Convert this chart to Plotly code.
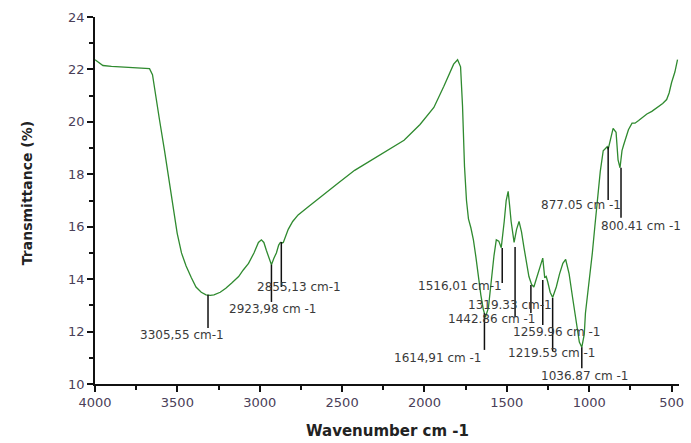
import plotly.graph_objects as go

# ---- spectrum (wavenumber cm-1, transmittance %) ----
wavenumber = [4000, 3970, 3952, 3900, 3850, 3780, 3729, 3669, 3651, 3630, 3609, 3578, 3549, 3531, 3519,
              3501, 3475, 3447, 3415, 3387, 3355, 3326, 3300, 3278, 3240, 3206, 3170, 3128, 3100, 3068,
              3035, 3008, 2990, 2975, 2960, 2945, 2929, 2914, 2899, 2885, 2875, 2865, 2857, 2845, 2827,
              2800, 2767, 2707, 2629, 2527, 2424, 2346, 2226, 2124, 2027, 1943, 1883, 1850, 1823, 1799,
              1781, 1769, 1757, 1745, 1733, 1718, 1703, 1688, 1673, 1658, 1643, 1630, 1612, 1594, 1578,
              1564, 1549, 1534, 1525, 1516, 1504, 1492, 1483, 1474, 1456, 1441, 1426, 1411, 1396, 1381,
              1366, 1350, 1336, 1324, 1312, 1297, 1282, 1270, 1261, 1252, 1237, 1222, 1200, 1180, 1160,
              1143, 1122, 1101, 1077, 1060, 1045, 1030, 1023, 1000, 981, 966, 951, 933, 915, 900,
              891, 885, 870, 855, 837, 825, 813, 801, 792, 783, 762, 740, 722, 700, 680,
              650, 620, 585, 554, 530, 515, 500, 480, 464]
transmittance = [22.37, 22.25, 22.15, 22.12, 22.10, 22.09, 22.07, 22.03, 21.80, 20.90, 20.10, 18.90, 17.70, 17.00, 16.50,
                 15.75, 15.00, 14.50, 14.05, 13.70, 13.50, 13.40, 13.38, 13.40, 13.50, 13.65, 13.85, 14.10, 14.35, 14.60,
                 15.00, 15.40, 15.50, 15.40, 15.10, 14.80, 14.55, 14.80, 15.00, 15.30, 15.40, 15.38, 15.40, 15.60, 15.90,
                 16.20, 16.45, 16.75, 17.15, 17.65, 18.15, 18.45, 18.90, 19.30, 19.90, 20.55, 21.35, 21.80, 22.20, 22.37,
                 22.10, 20.60, 18.30, 17.00, 16.30, 15.95, 15.50, 14.85, 14.00, 13.40, 12.85, 12.55, 12.90, 14.00, 14.90,
                 15.50, 15.45, 15.20, 15.60, 16.20, 17.00, 17.35, 16.80, 16.20, 15.40, 15.90, 16.20, 15.80, 15.20, 14.60,
                 14.10, 13.80, 13.70, 13.95, 14.20, 14.55, 14.80, 14.05, 14.10, 13.90, 13.50, 13.30, 13.70, 14.20, 14.60,
                 14.75, 14.20, 13.30, 12.40, 11.60, 11.40, 11.90, 12.70, 13.90, 15.00, 16.00, 16.90, 18.10, 18.90, 19.00,
                 19.05, 18.95, 19.30, 19.75, 19.60, 18.55, 18.25, 18.90, 19.10, 19.30, 19.70, 19.95, 19.95, 20.05, 20.15,
                 20.30, 20.40, 20.55, 20.70, 20.85, 21.10, 21.50, 21.90, 22.37]

# ---- peak labels ----
peak_labels = ["3305,55 cm-1", "2923,98 cm -1", "2855,13 cm-1", "1614,91 cm -1", "1516,01 cm-1",
               "1442.86 cm -1", "1319.33 cm-1", "1259.96 cm -1", "1219.53 cm -1", "1036.87 cm -1",
               "877.05 cm -1", "800.41 cm -1"]
marker_x = [3314, 2929, 2869, 1636, 1528, 1450, 1354, 1282, 1222, 1045, 885, 807]
marker_top = [13.40, 14.55, 15.42, 12.70, 15.19, 15.23, 13.78, 13.97, 13.28, 11.40, 19.05, 18.25]
marker_bottom = [12.14, 13.13, 13.70, 11.30, 13.85, 12.56, 12.71, 12.25, 11.25, 10.60, 17.02, 16.34]
label_x = [3471, 2917, 2761, 1919, 1787, 1588, 1480, 1197, 1228, 1023, 1047, 686]
label_y = [11.87, 12.86, 13.70, 10.99, 13.74, 12.48, 13.02, 11.98, 11.18, 10.31, 16.83, 16.03]

x_ticks = [4000, 3500, 3000, 2500, 2000, 1500, 1000, 500]
y_ticks = [10, 12, 14, 16, 18, 20, 22, 24]

fig = go.Figure()
fig.add_trace(go.Scatter(x=wavenumber, y=transmittance, mode="lines",
                         line=dict(color="#2f8a2f", width=1.3), showlegend=False,
                         hoverinfo="skip"))

# vertical marker lines
lx, ly = [], []
for x, t, b in zip(marker_x, marker_top, marker_bottom):
    lx += [x, x, None]
    ly += [t, b, None]
fig.add_trace(go.Scatter(x=lx, y=ly, mode="lines", line=dict(color="#111111", width=1.5),
                         showlegend=False, hoverinfo="skip"))

for txt, x, y in zip(peak_labels, label_x, label_y):
    fig.add_annotation(x=x, y=y, text=txt, showarrow=False, xanchor="center", yanchor="middle",
                       font=dict(family="DejaVu Sans", size=12, color="#3a3a3a"))

tick_font = dict(family="DejaVu Sans", size=13, color="#4a4058")
fig.update_xaxes(range=[4000, 455], tickmode="array", tickvals=x_ticks,
                 ticktext=[str(v) for v in x_ticks],
                 showline=True, linecolor="#111111", linewidth=1.5, mirror=False,
                 ticks="outside", ticklen=6, tickwidth=1.5, tickcolor="#111111",
                 minor=dict(tickmode="linear", tick0=3750, dtick=500, ticks="outside",
                            ticklen=4, tickwidth=1.5, tickcolor="#111111", showgrid=False),
                 showgrid=False, zeroline=False, tickfont=tick_font)
fig.update_yaxes(range=[10, 24], tickmode="array", tickvals=y_ticks,
                 ticktext=[str(v) for v in y_ticks],
                 showline=True, linecolor="#111111", linewidth=1.5, mirror=False,
                 ticks="outside", ticklen=6, tickwidth=1.5, tickcolor="#111111",
                 minor=dict(tickmode="linear", tick0=11, dtick=2, ticks="outside",
                            ticklen=4, tickwidth=1.5, tickcolor="#111111", showgrid=False),
                 showgrid=False, zeroline=False, tickfont=tick_font)

# axis titles
fig.add_annotation(xref="paper", yref="paper", x=0.5, y=0, yshift=-47, text="<b>Wavenumber cm -1</b>",
                   showarrow=False, xanchor="center", yanchor="middle",
                   font=dict(family="DejaVu Sans", size=15, color="#222222"))
fig.add_annotation(xref="paper", yref="paper", x=0, xshift=-68, y=0.52, text="<b>Transmittance (%)</b>",
                   textangle=-90, showarrow=False, xanchor="center", yanchor="middle",
                   font=dict(family="DejaVu Sans", size=14, color="#222222"))

fig.update_layout(width=691, height=443, margin=dict(l=95, r=7, t=17, b=59),
                  plot_bgcolor="white", paper_bgcolor="white")

fig.write_html("out.html")
